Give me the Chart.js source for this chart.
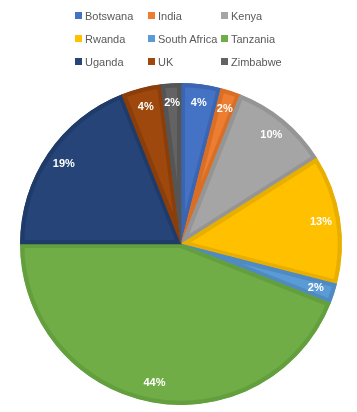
<!DOCTYPE html>
<html>
<head>
<meta charset="UTF-8">
<title>Pie</title>
<script src="https://cdn.jsdelivr.net/npm/chart.js"></script>
<style>
  html, body { margin: 0; padding: 0; background: #fff; }
  .wrap { position: relative; width: 357px; height: 412px; }
  #legend {
    position: absolute; left: 75px; top: 4px;
    display: grid; grid-template-columns: 73px 73px auto; grid-auto-rows: 23px;
    font-family: "Liberation Sans", Arial, sans-serif; font-size: 11px; color: #595959;
  }
  #legend div { display: flex; align-items: center; white-space: nowrap; }
  #legend span.box { width: 7px; height: 7px; margin-right: 3px; display: inline-block; }
</style>
</head>
<body>
<div class="wrap">
  <canvas id="pie" width="357" height="412"></canvas>
  <div id="legend"></div>
</div>
<script>
// データ
const countries = ['Botswana', 'India', 'Kenya', 'Rwanda', 'South Africa', 'Tanzania', 'Uganda', 'UK', 'Zimbabwe'];
const shares = [4, 2, 10, 13, 2, 44, 19, 4, 2];
const fillColors = ['#4472C4', '#ED7D31', '#A5A5A5', '#FFC000', '#5B9BD5', '#70AD47', '#264478', '#9E480E', '#636363'];
const edgeColors = ['#3B65B0', '#D96F27', '#959595', '#E9AF00', '#4F8AC1', '#63A03D', '#1F3B69', '#8B3D0A', '#555555'];

// 凡例 (3列のグリッド)
const legend = document.getElementById('legend');
countries.forEach((name, i) => {
  const item = document.createElement('div');
  item.innerHTML = '<span class="box" style="background:' + fillColors[i] + '"></span>' + name;
  legend.appendChild(item);
});

// スライス内にパーセント表示
const pctLabels = {
  id: 'pctLabels',
  afterDatasetsDraw(chart) {
    const ctx = chart.ctx;
    const meta = chart.getDatasetMeta(0);
    const total = shares.reduce((a, b) => a + b, 0);
    ctx.save();
    ctx.font = 'bold 11px "Liberation Sans", Arial, sans-serif';
    ctx.fillStyle = '#fff';
    ctx.textAlign = 'center';
    ctx.textBaseline = 'middle';
    meta.data.forEach((arc, i) => {
      const p = arc.getProps(['x', 'y', 'startAngle', 'endAngle', 'outerRadius']);
      const mid = (p.startAngle + p.endAngle) / 2;
      const r = p.outerRadius * 0.88;
      const txt = Math.round(shares[i] / total * 100) + '%';
      ctx.fillText(txt, p.x + Math.cos(mid) * r, p.y + Math.sin(mid) * r);
    });
    ctx.restore();
  }
};

new Chart(document.getElementById('pie'), {
  type: 'pie',
  data: {
    labels: countries,
    datasets: [{
      data: shares,
      backgroundColor: fillColors,
      borderColor: edgeColors,
      borderWidth: 4,
      borderAlign: 'inner'
    }]
  },
  options: {
    responsive: false,
    animation: false,
    layout: { padding: { top: 83, left: 20, right: 15, bottom: 7 } },
    plugins: {
      legend: { display: false },
      tooltip: { enabled: false }
    }
  },
  plugins: [pctLabels]
});
</script>
</body>
</html>
